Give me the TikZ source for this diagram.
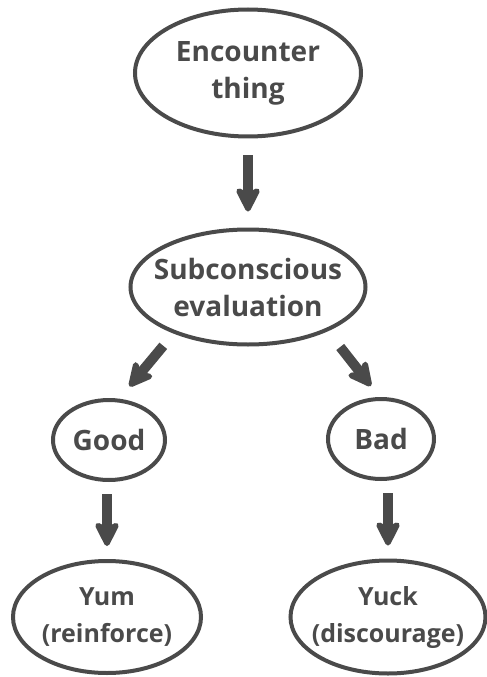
\documentclass[tikz,border=0pt]{standalone}
\usepackage{fontspec}
\setmainfont{Open Sans}
\usetikzlibrary{arrows.meta,positioning,shapes.geometric}
\definecolor{InkGray}{HTML}{4A4A4A}

\begin{document}
\begin{tikzpicture}[x=1pt,y=1pt,font=\fontsize{28}{37}\selectfont\bfseries,text=InkGray,
  blob/.style={ellipse,draw=InkGray,line width=4pt,align=center,inner sep=-30pt},
  outcome/.style={blob,font=\fontsize{25}{37}\selectfont\bfseries},
  flow/.style={-{Stealth[length=30pt,width=30pt,inset=8pt,round]},draw=InkGray,line width=10pt}]
  \useasboundingbox (-248,73) rectangle (239,-604);
  \node[blob,minimum width=226pt,minimum height=127pt] (enc) {Encounter\\thing};
  \node[blob,minimum width=235pt,minimum height=115pt,on grid,below=214pt of enc] (eval) {Subconscious\\evaluation};
  \node[blob,minimum width=112pt,minimum height=80pt,on grid,below left=153pt and 139pt of eval] (good) {Good};
  \node[blob,minimum width=106pt,minimum height=80pt,on grid,below right=152pt and 133pt of eval] (bad) {Bad};
  \node[outcome,minimum width=188pt,minimum height=112pt,on grid,below left=177pt and 2pt of good] (yum) {Yum\\(reinforce)};
  \node[outcome,minimum width=195pt,minimum height=113pt,on grid,below right=178pt and 7pt of bad] (yuck) {Yuck\\(discourage)};
  \draw[flow,shorten <=17pt,shorten >=16pt] (enc.south) -- (eval.north);
  \draw[flow,shorten <=16pt,shorten >=16pt] (eval.212) -- (good.76);
  \draw[flow,shorten <=20pt,shorten >=14pt] (eval.331) -- (bad.92);
  \draw[flow,shorten <=12pt,shorten >=13pt] (yum.north |- good.south) -- (yum.north);
  \draw[flow,shorten <=12pt,shorten >=13pt] (yuck.north |- bad.south) -- (yuck.north);
\end{tikzpicture}
\end{document}
